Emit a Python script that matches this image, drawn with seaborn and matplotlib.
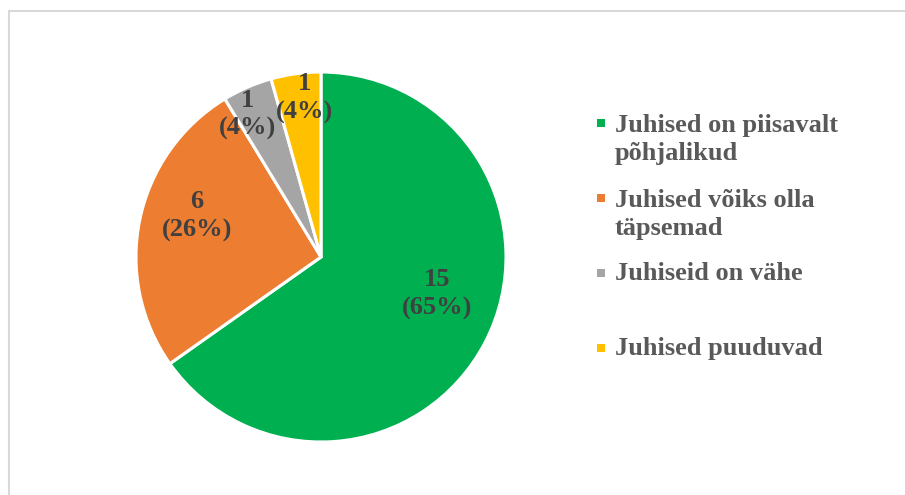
import numpy as np
import matplotlib
matplotlib.use("Agg")
import matplotlib.pyplot as plt
from matplotlib.patches import Rectangle
import seaborn as sns

# data
categories = ["Juhised on piisavalt\npõhjalikud",
              "Juhised võiks olla\ntäpsemad",
              "Juhiseid on vähe",
              "Juhised puuduvad"]
counts = [15, 6, 1, 1]
colors = ["#00B050", "#ED7D31", "#A5A5A5", "#FFC000"]

sns.set_style("white")
plt.rcParams['font.family'] = ['Liberation Serif', 'DejaVu Serif']
palette = sns.color_palette(colors)
total = sum(counts)

fig = plt.figure(figsize=(9.05, 4.95), dpi=100)
W, H = 905, 495

# chart border (only left/top edges visible in the image)
fig.add_artist(Rectangle((8.5 / W, -0.1), 1.2, (H - 10.5) / H + 0.1,
                         transform=fig.transFigure, fill=False,
                         edgecolor="#D9D9D9", linewidth=1.5))

# pie axes: centre (321, 257) px, radius 185 px
cx, cy, r = 321, 257, 185
ax = fig.add_axes([(cx - r) / W, (H - cy - r) / H, 2 * r / W, 2 * r / H])

wedges, texts, autotexts = ax.pie(
    counts, colors=palette, startangle=90, counterclock=False,
    autopct=lambda p: f"{round(p * total / 100)}\n({p:.0f}%)",
    pctdistance=0.67,
    wedgeprops=dict(edgecolor="white", linewidth=2.2),
    textprops=dict(fontsize=19, fontweight="bold", color="#404040",
                   linespacing=1.3))
ax.set_xlim(-1, 1)
ax.set_ylim(-1, 1)
for w in wedges:
    w.set_clip_on(False)

# Excel "best fit" label spots (axes units, radius = 1)
label_pos = [(0.63, -0.20), (-0.67, 0.22), (-0.40, 0.77), (-0.09, 0.86)]
for t, p in zip(autotexts, label_pos):
    t.set_position(p)

# legend, Excel style: marker beside first line, entries 75 px apart
for i, (lab, col) in enumerate(zip(categories, palette)):
    base = 130 + 75 * i
    nlines = lab.count("\n")
    fig.add_artist(Rectangle((597 / W, (H - base + 3) / H), 8 / W, 8 / H,
                             transform=fig.transFigure, facecolor=col,
                             edgecolor="none"))
    fig.text(615 / W, (H - base - 30 * nlines) / H, lab, fontsize=19,
             fontweight="bold", color="#595959", va="baseline", ha="left",
             linespacing=1.3)

fig.savefig("out.png", dpi=100)
